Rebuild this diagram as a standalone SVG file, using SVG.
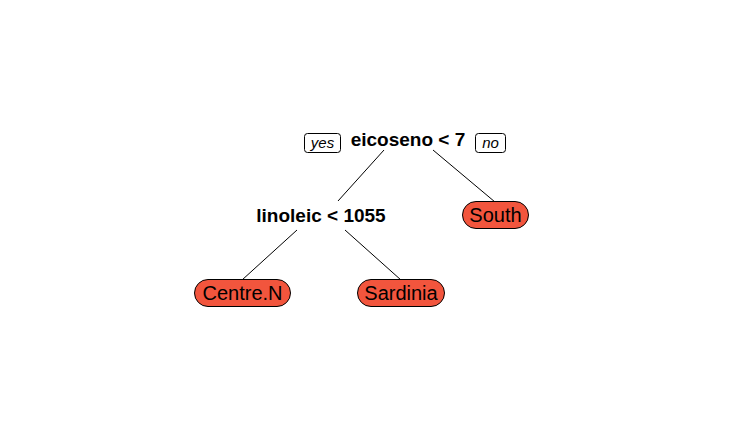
<svg xmlns="http://www.w3.org/2000/svg" width="734" height="437" viewBox="0 0 734 437">
<style>
.split{font-family:"Liberation Sans",Arial,sans-serif;font-weight:bold;font-size:19px;fill:#000;text-anchor:middle}
.leaf{font-family:"Liberation Sans",Arial,sans-serif;font-size:20px;fill:#000;text-anchor:middle}
.lab{font-family:"Liberation Sans",Arial,sans-serif;font-style:italic;font-size:15px;fill:#000;text-anchor:middle}
.pill{fill:#F2553D;stroke:#000;stroke-width:1}
.box{fill:#fff;stroke:#000;stroke-width:1}
.edge{stroke:#000;stroke-width:1;fill:none}
</style>
<rect width="734" height="437" fill="#fff"/>
<g id="connectors">
<line class="edge" x1="384" y1="150" x2="338" y2="201"/>
<line class="edge" x1="433" y1="150" x2="495" y2="202"/>
<line class="edge" x1="297" y1="230" x2="242" y2="280"/>
<line class="edge" x1="345" y1="230" x2="401" y2="280"/>
</g>
<g id="yes-label">
<rect class="box" x="304.5" y="133.5" width="36" height="19" rx="3"/>
<text class="lab" x="322.5" y="148">yes</text>
</g>
<g id="no-label">
<rect class="box" x="475.5" y="133.5" width="30" height="19" rx="3"/>
<text class="lab" x="490.5" y="148">no</text>
</g>
<g id="node-root">
<text class="split" x="408" y="146">eicoseno &lt; 7</text>
</g>
<g id="node-linoleic">
<text class="split" x="321" y="222">linoleic &lt; 1055</text>
</g>
<g id="node-south">
<rect class="pill" x="462.5" y="201.5" width="66" height="27" rx="13.5"/>
<text class="leaf" x="495.5" y="222">South</text>
</g>
<g id="node-centre">
<rect class="pill" x="194.5" y="279.5" width="96" height="27" rx="13.5"/>
<text class="leaf" x="242.5" y="300">Centre.N</text>
</g>
<g id="node-sardinia">
<rect class="pill" x="357.5" y="279.5" width="87" height="27" rx="13.5"/>
<text class="leaf" x="401" y="300">Sardinia</text>
</g>
</svg>
